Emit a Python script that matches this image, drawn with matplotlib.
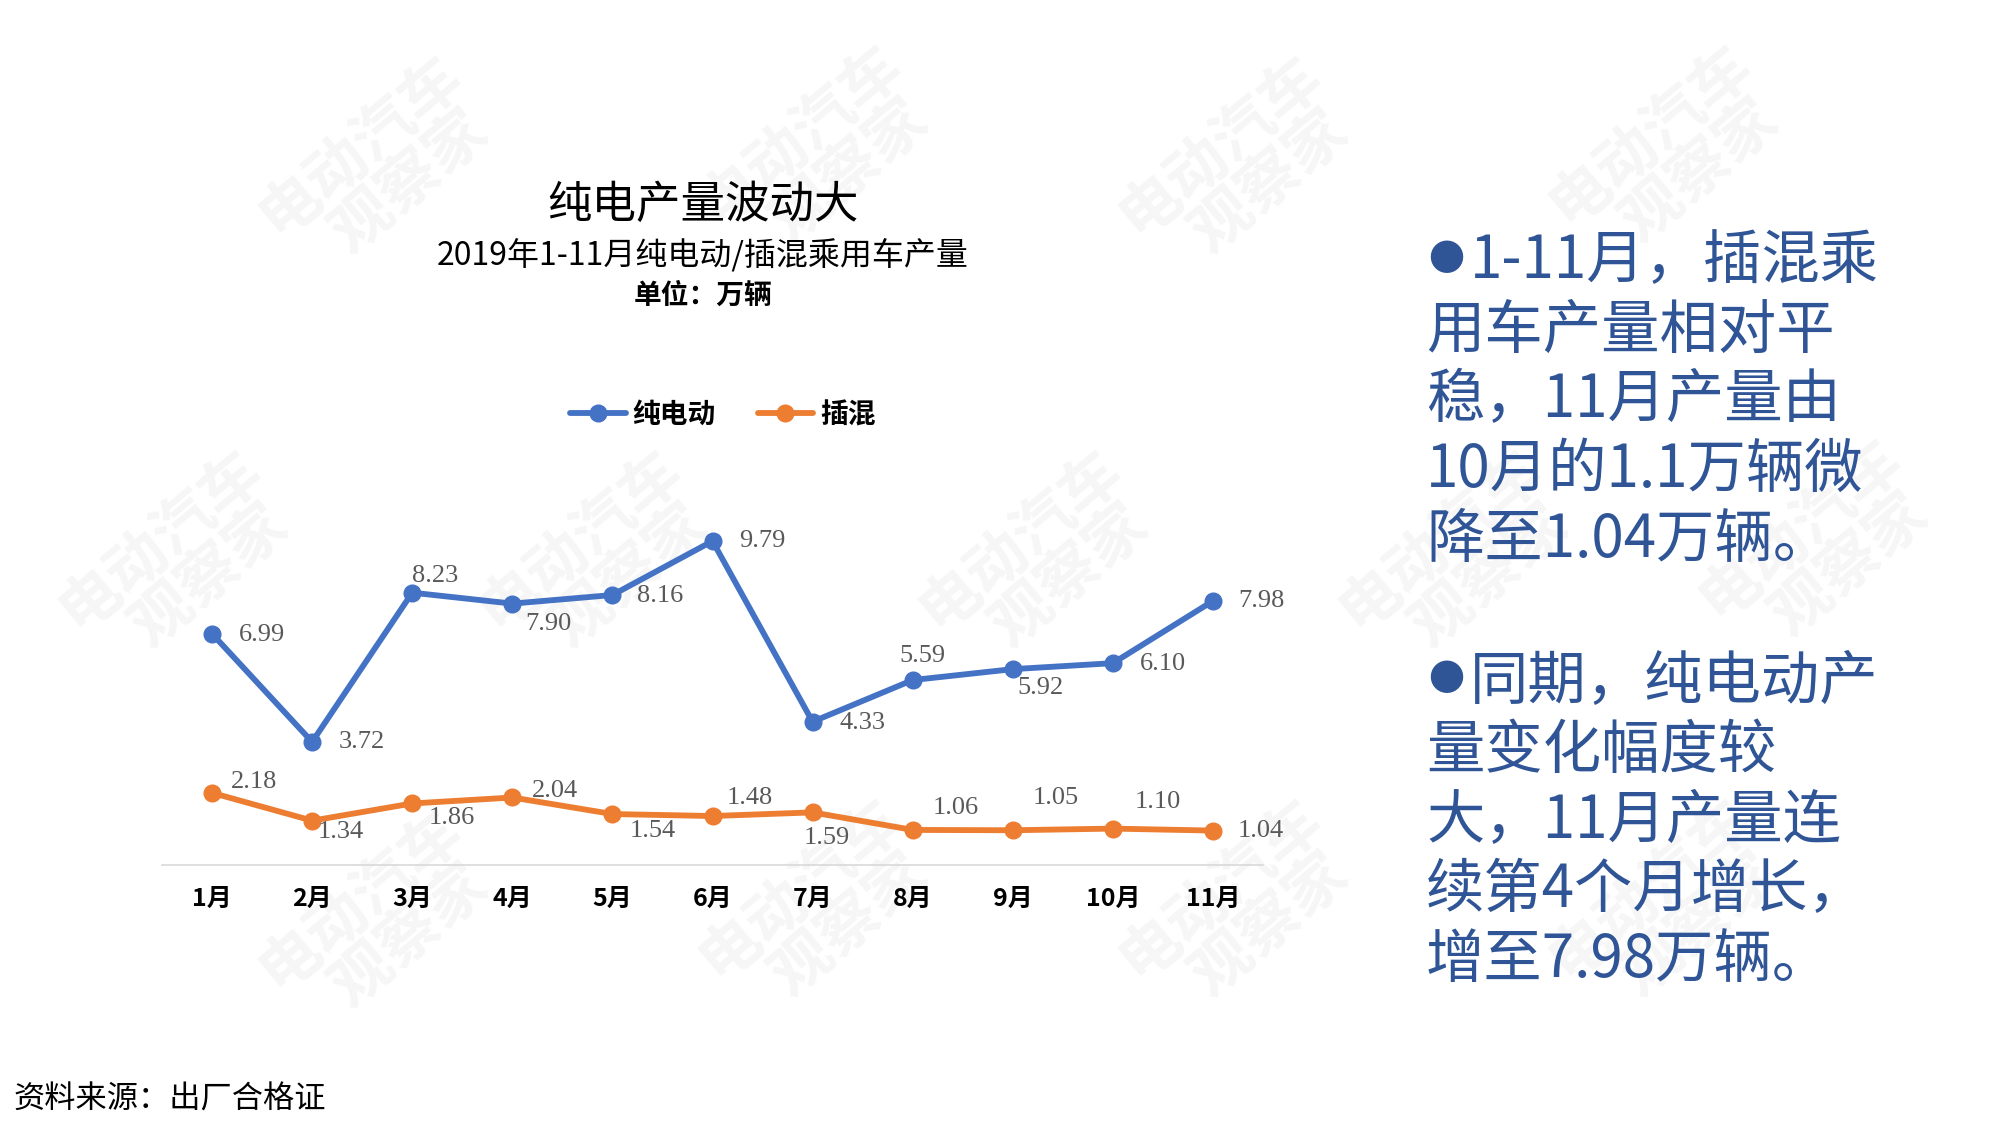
import numpy as np
import matplotlib.pyplot as plt

plt.rcParams['font.family'] = ['Noto Sans CJK SC', 'DejaVu Sans']

months = ['1月', '2月', '3月', '4月', '5月', '6月', '7月', '8月', '9月', '10月', '11月']
bev = [6.99, 3.72, 8.23, 7.90, 8.16, 9.79, 4.33, 5.59, 5.92, 6.10, 7.98]
phev = [2.18, 1.34, 1.86, 2.04, 1.54, 1.48, 1.59, 1.06, 1.05, 1.10, 1.04]

# label offsets in pixels (dx, dy) from each point
bev_off = [(50, -1), (50, 0), (23, 17), (36, -20), (48, -1), (50, 0),
           (50, -1), (10, 24), (28, -19), (50, -1), (48, 0)]
phev_off = [(42, 11), (29, -11), (40, -15), (43, 6), (40, -17), (37, 18),
            (14, -26), (43, 22), (43, 32), (45, 27), (48, 0)]

blue = '#4472C4'
orange = '#ED7D31'
txt_blue = '#2F5597'

fig = plt.figure(figsize=(20, 11.26), dpi=100)

# faint watermarks
wm_pos = [(0.19, 0.85), (0.41, 0.86), (0.62, 0.85), (0.835, 0.86),
          (0.09, 0.50), (0.30, 0.50), (0.52, 0.50), (0.73, 0.50), (0.91, 0.51),
          (0.19, 0.18), (0.41, 0.19), (0.62, 0.19), (0.835, 0.19)]
for wx, wy in wm_pos:
    fig.text(wx, wy, '电动汽车\n  观察家', fontsize=44, fontweight='bold', color='#F6F6F6',
             rotation=40, ha='center', va='center', linespacing=1.0, zorder=-5)

ax = fig.add_axes([0.081, 0.2318, 0.5505, 0.3526])
ax.set_zorder(2)
ax.patch.set_alpha(0)
x = np.arange(len(months))
ax.plot(x, bev, color=blue, lw=4.2, marker='o', ms=12, label='纯电动', solid_capstyle='round')
ax.plot(x, phev, color=orange, lw=4.2, marker='o', ms=12, label='插混', solid_capstyle='round')

for i in range(len(months)):
    ax.annotate('%.2f' % bev[i], (x[i], bev[i]), xytext=bev_off[i], textcoords='offset pixels',
                ha='center', va='center', fontsize=19, color='#595959', family=['Liberation Serif'])
    ax.annotate('%.2f' % phev[i], (x[i], phev[i]), xytext=phev_off[i], textcoords='offset pixels',
                ha='center', va='center', fontsize=19, color='#595959', family=['Liberation Serif'])

ax.set_xlim(-0.5, len(months) - 0.5)
ax.set_ylim(0, 12)
ax.set_xticks(x)
ax.set_xticklabels(months, fontsize=18, fontweight='bold')
ax.tick_params(axis='x', length=0, pad=16)
ax.set_yticks([])
for s in ['left', 'right', 'top']:
    ax.spines[s].set_visible(False)
ax.spines['bottom'].set_color('#D9D9D9')
ax.spines['bottom'].set_linewidth(1.2)

fig.legend(loc='center', bbox_to_anchor=(0.3615, 0.6314), ncol=2, frameon=False,
           prop={'weight': 'bold', 'size': 20}, handlelength=2.0,
           columnspacing=1.5, handletextpad=0.25)

fig.text(0.3515, 1 - 205 / 1126, '纯电产量波动大', fontsize=32, ha='center', va='center')
fig.text(0.3515, 1 - 256 / 1126, '2019年1-11月纯电动/插混乘用车产量', fontsize=23, ha='center', va='center')
fig.text(0.3515, 1 - 296 / 1126, '单位：万辆', fontsize=20, fontweight='bold', ha='center', va='center')

lines1 = ['1-11月，插混乘', '用车产量相对平', '稳，11月产量由', '10月的1.1万辆微', '降至1.04万辆。']
lines2 = ['同期，纯电动产', '量变化幅度较', '大，11月产量连', '续第4个月增长，', '增至7.98万辆。']
for block, y0 in [(lines1, 262), (lines2, 682)]:
    fig.text(1428 / 2000, 1 - (y0 - 2) / 1126, '●', fontsize=26, color=txt_blue,
             ha='left', va='center')
    for k, t in enumerate(block):
        xl = 1470 if k == 0 else 1426
        fig.text(xl / 2000, 1 - (y0 + 69.5 * k) / 1126, t, fontsize=42, color=txt_blue,
                 ha='left', va='center')

fig.text(13 / 2000, 1 - 1100 / 1126, '资料来源：出厂合格证', fontsize=22.5, ha='left', va='center')

fig.savefig('out.png', dpi=100)
